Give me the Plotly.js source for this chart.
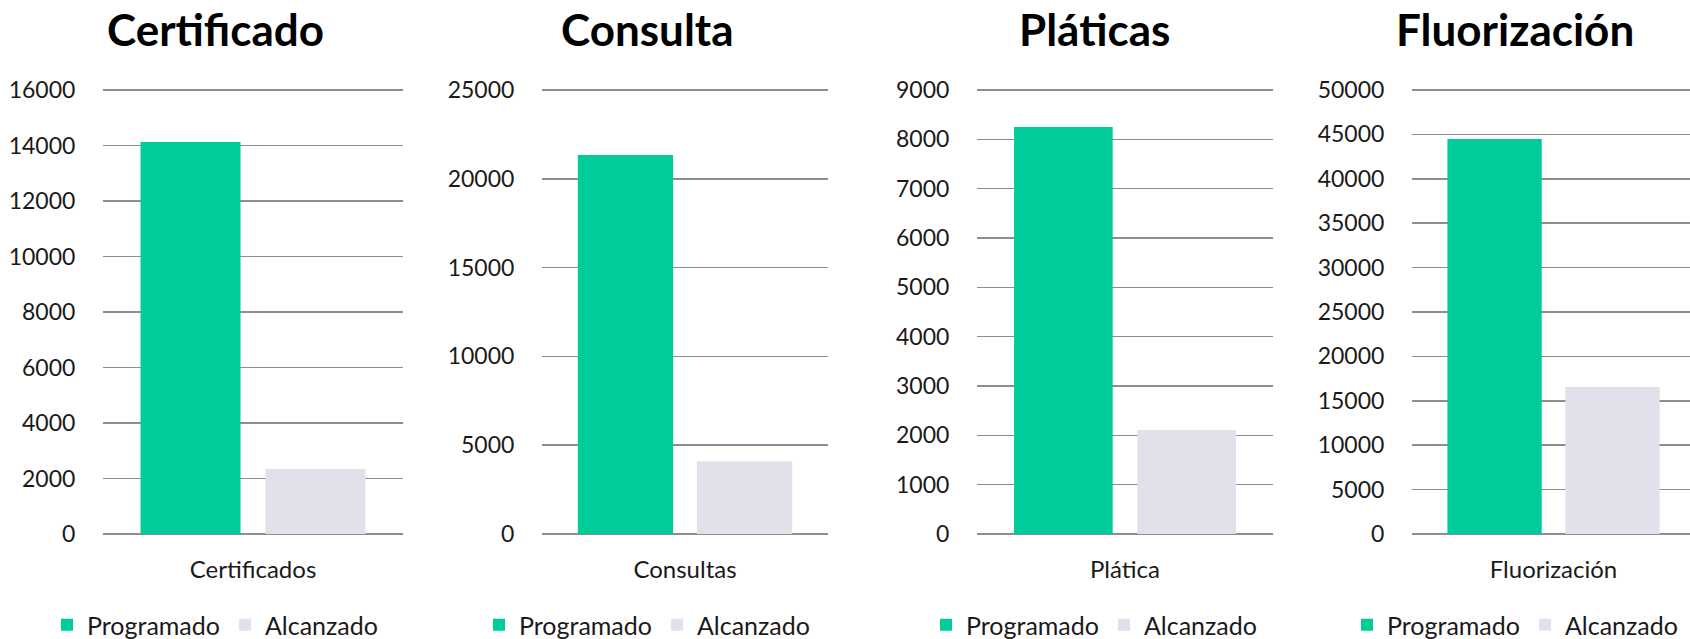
<!DOCTYPE html>
<html>
<head>
<meta charset="utf-8">
<script src="https://cdn.plot.ly/plotly-3.0.1.min.js"></script>
<style>html,body{margin:0;padding:0;background:#fff;}#chart{width:1690px;height:639px;}</style>
</head>
<body>
<div id="chart"></div>
<script>
// ---- data ----
const titles = ['Certificado', 'Consulta', 'Pláticas', 'Fluorización'];
const categories = ['Certificados', 'Consultas', 'Plática', 'Fluorización'];
const programado = [14130, 21340, 8250, 44480];
const alcanzado = [2340, 4090, 2110, 16550];
const seriesNames = ['Programado', 'Alcanzado'];
const yMax = [16000, 25000, 9000, 50000];
const yStep = [2000, 5000, 1000, 5000];

// ---- style / layout ----
const W = 1690, H = 639;
const colors = ['#00CC99', '#E3DFEB'];
const gridColor = '#8E8E8E';
const FONT = 'Lato, "Open Sans", sans-serif';
// plot-area pixel edges for each panel [left, right]
const plotX = [[103, 403], [542, 828], [977, 1273], [1412, 1690]];
const xRangeMax = [0.5, 0.5, 0.5, 0.4823];
const centers = [215, 647, 1094, 1515];
const zeroPx = 534, topPx = 90;       // pixel rows of 0 and of the axis max
const pad = 0.004;                    // small headroom so the top gridline is drawn
const topDomainPx = zeroPx - (zeroPx - topPx) * (1 + pad);
const yDomain = [(H - zeroPx) / H, (H - topDomainPx) / H];

const traces = [];
const layout = {
  width: W, height: H,
  margin: {l: 0, r: 0, t: 0, b: 0, autoexpand: false},
  paper_bgcolor: '#ffffff', plot_bgcolor: 'rgba(0,0,0,0)',
  barmode: 'group', bargap: 0.167, bargroupgap: 0.2,
  font: {family: FONT, color: '#000000', size: 23},
  showlegend: true,
  annotations: []
};

for (let i = 0; i < 4; i++) {
  const sfx = i === 0 ? '' : String(i + 1);
  const legendName = 'legend' + sfx;
  const vals = [programado[i], alcanzado[i]];
  for (let s = 0; s < 2; s++) {
    traces.push({
      type: 'bar',
      x: [categories[i]],
      y: [vals[s]],
      name: seriesNames[s],
      xaxis: 'x' + sfx,
      yaxis: 'y' + sfx,
      legend: legendName,
      marker: {color: colors[s], line: {width: 0}},
      hoverinfo: 'skip'
    });
  }
  layout['xaxis' + sfx] = {
    domain: [plotX[i][0] / W, plotX[i][1] / W],
    anchor: 'y' + sfx,
    type: 'category',
    range: [-0.5, xRangeMax[i]],
    showgrid: false, showline: false, zeroline: false,
    ticks: 'outside', ticklen: 14, tickcolor: 'rgba(0,0,0,0)',
    tickfont: {family: FONT, size: 24, color: '#1a1a1a'},
    fixedrange: true
  };
  layout['yaxis' + sfx] = {
    domain: yDomain,
    anchor: 'x' + sfx,
    range: [0, yMax[i] * (1 + pad)],
    dtick: yStep[i], tick0: 0, tickformat: 'd',
    showgrid: true, gridcolor: gridColor, gridwidth: 1.5,
    zeroline: true, zerolinecolor: gridColor, zerolinewidth: 1.5,
    showline: false,
    ticks: 'outside', ticklen: 22, tickcolor: 'rgba(0,0,0,0)',
    tickfont: {family: FONT, size: 23, color: '#1a1a1a'},
    fixedrange: true
  };
  layout[legendName] = {
    orientation: 'h',
    x: centers[i] / W, xanchor: 'center',
    y: (H - 625) / H, yanchor: 'middle',
    font: {family: FONT, size: 25, color: '#1a1a1a'},
    bgcolor: 'rgba(0,0,0,0)', traceorder: 'normal'
  };
  layout.annotations.push({
    text: titles[i],
    xref: 'paper', yref: 'paper',
    x: centers[i] / W, y: (H - 29) / H,
    xanchor: 'center', yanchor: 'middle',
    showarrow: false,
    font: {family: FONT, size: 44, color: '#000000', weight: 'bold'}
  });
}

Plotly.newPlot('chart', traces, layout, {staticPlot: true, displayModeBar: false});
</script>
</body>
</html>
